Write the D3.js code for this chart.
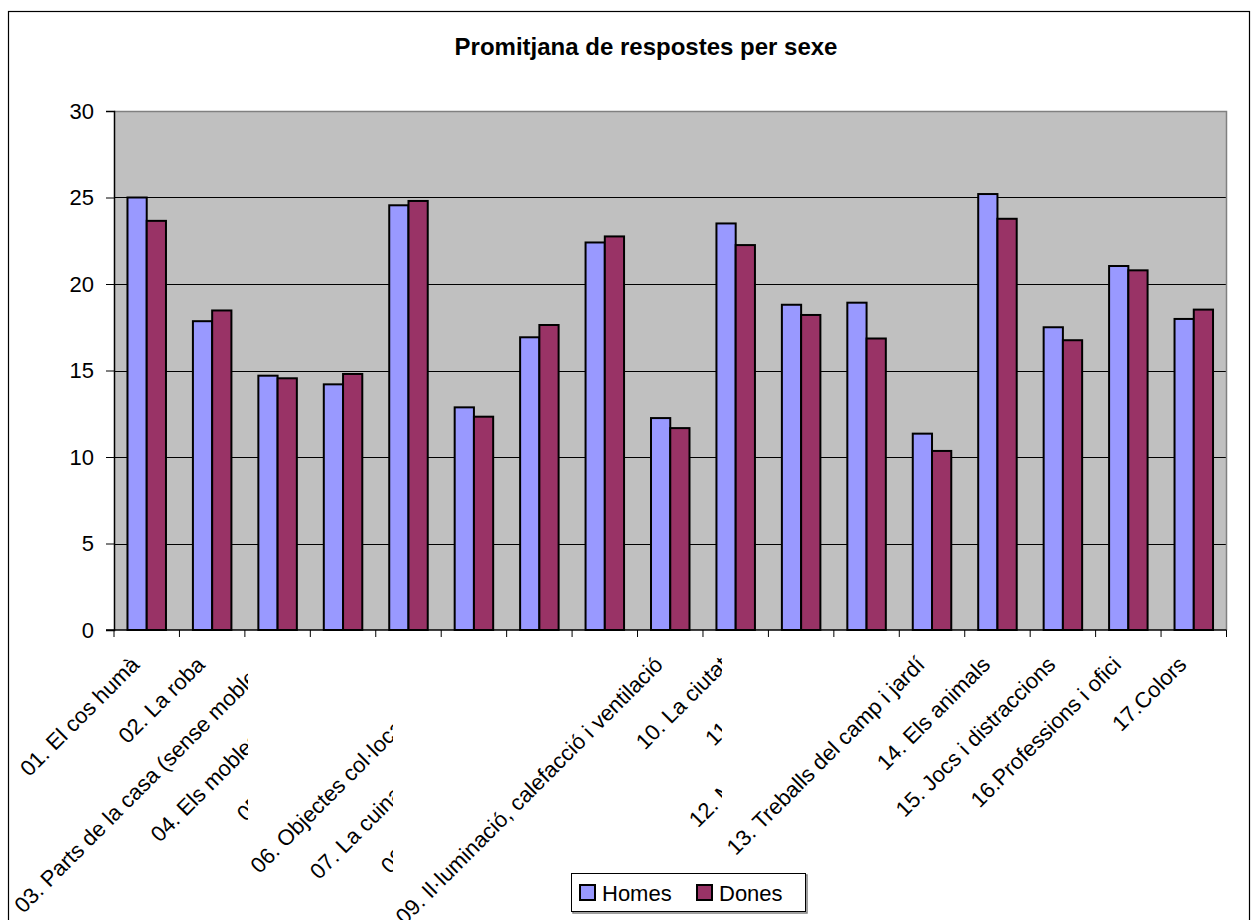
<!DOCTYPE html>
<html>
<head>
<meta charset="utf-8">
<script src="https://cdn.jsdelivr.net/npm/d3@7"></script>
<style>
  body { margin: 0; background: #fff; }
  text { font-family: "Liberation Sans", Arial, sans-serif; fill: #000; }
</style>
</head>
<body>
<div id="chart"></div>
<script>
// categories and averages
var categories = [
  "01. El cos humà",
  "02. La roba",
  "03. Parts de la casa (sense mobles)",
  "04. Els mobles de la casa",
  "05. Aliments i begudes",
  "06. Objectes col·locats a taula",
  "07. La cuina i els seus utensilis",
  "08. L'escola: mobles i material",
  "09. Il·luminació, calefacció i ventilació",
  "10. La ciutat",
  "11. El camp",
  "12. Mitjans de transport",
  "13. Treballs del camp i jardí",
  "14. Els animals",
  "15. Jocs i distraccions",
  "16.Professions i ofici",
  "17.Colors"
];
var homes = [25.0, 17.85, 14.7, 14.2, 24.55, 12.87, 16.92, 22.4, 12.25, 23.5, 18.8, 18.92, 11.35, 25.2, 17.5, 21.04, 17.98];
var dones = [23.65, 18.47, 14.55, 14.8, 24.8, 12.33, 17.63, 22.75, 11.67, 22.25, 18.21, 16.85, 10.35, 23.77, 16.75, 20.79, 18.52];
var seriesNames = ["Homes", "Dones"];
var yTicks = [0, 5, 10, 15, 20, 25, 30];

var width = 1259;
var height = 920;
var colors = { Homes: "#9999ff", Dones: "#993366" };

// plot area
var plotLeft = 114, plotRight = 1226.5, plotTop = 111, plotBottom = 630;

// excel cut some of the rotated labels off, keep that look
var labelClip = { 2: 248, 3: 248, 4: 248, 5: 393, 6: 393, 7: 393, 9: 722, 10: 722, 11: 722 };

var svg = d3.select("#chart")
  .append("svg")
  .attr("width", width)
  .attr("height", height);

// outer chart border
svg.append("rect")
  .attr("x", 8.5)
  .attr("y", 11.5)
  .attr("width", 1241)
  .attr("height", 930)
  .attr("fill", "#fff")
  .attr("stroke", "#000")
  .attr("stroke-width", 1.2);

svg.append("text")
  .attr("x", 646)
  .attr("y", 55)
  .attr("text-anchor", "middle")
  .attr("font-size", 24)
  .attr("font-weight", "bold")
  .text("Promitjana de respostes per sexe");

var xScale = d3.scaleBand()
  .domain(categories)
  .range([plotLeft, plotRight]);

var xInner = d3.scaleBand()
  .domain(seriesNames)
  .range([0, xScale.bandwidth()])
  .paddingInner(0)
  .paddingOuter(0.7);

var yScale = d3.scaleLinear()
  .domain([0, 30])
  .range([plotBottom, plotTop]);

// plot background
svg.append("rect")
  .attr("x", plotLeft)
  .attr("y", plotTop)
  .attr("width", plotRight - plotLeft)
  .attr("height", plotBottom - plotTop)
  .attr("fill", "#c0c0c0");

// gridlines
svg.append("g")
  .selectAll("line")
  .data(yTicks.filter(function(t) { return t > 0 && t < 30; }))
  .enter()
  .append("line")
  .attr("x1", plotLeft)
  .attr("x2", plotRight)
  .attr("y1", function(d) { return Math.round(yScale(d)) + 0.5; })
  .attr("y2", function(d) { return Math.round(yScale(d)) + 0.5; })
  .attr("stroke", "#000")
  .attr("stroke-width", 1);

// gray plot border top / right
svg.append("path")
  .attr("d", "M" + plotLeft + "," + (plotTop + 0.5) + "H" + plotRight + "V" + plotBottom)
  .attr("fill", "none")
  .attr("stroke", "#808080")
  .attr("stroke-width", 1.5);

// bars
var rows = categories.map(function(c, i) {
  return { cat: c, Homes: homes[i], Dones: dones[i] };
});

var groups = svg.append("g")
  .selectAll("g")
  .data(rows)
  .enter()
  .append("g")
  .attr("transform", function(d) { return "translate(" + xScale(d.cat) + ",0)"; });

groups.selectAll("rect")
  .data(function(d) {
    return seriesNames.map(function(s) { return { key: s, value: d[s] }; });
  })
  .enter()
  .append("rect")
  .attr("x", function(d) { return xInner(d.key); })
  .attr("y", function(d) { return yScale(d.value); })
  .attr("width", xInner.bandwidth())
  .attr("height", function(d) { return plotBottom - yScale(d.value); })
  .attr("fill", function(d) { return colors[d.key]; })
  .attr("stroke", "#000")
  .attr("stroke-width", 2);

// y axis
var yAxis = d3.axisLeft(yScale)
  .tickValues(yTicks)
  .tickSize(8)
  .tickPadding(12);

var gy = svg.append("g")
  .attr("transform", "translate(" + plotLeft + ",0)")
  .call(yAxis);
gy.select(".domain").attr("stroke", "#000").attr("stroke-width", 1.5);
gy.selectAll("text")
  .attr("font-size", 22)
  .attr("font-family", "Liberation Sans, Arial, sans-serif")
  .attr("fill", "#000");

// x axis line and category ticks
svg.append("line")
  .attr("x1", plotLeft - 8)
  .attr("x2", plotRight)
  .attr("y1", plotBottom)
  .attr("y2", plotBottom)
  .attr("stroke", "#000")
  .attr("stroke-width", 1.5);

svg.append("g")
  .selectAll("line")
  .data(categories.concat([null]))
  .enter()
  .append("line")
  .attr("x1", function(d) { return d === null ? plotRight : xScale(d); })
  .attr("x2", function(d) { return d === null ? plotRight : xScale(d); })
  .attr("y1", plotBottom)
  .attr("y2", plotBottom + 7)
  .attr("stroke", "#000")
  .attr("stroke-width", 1);

// clip paths for labels
var defs = svg.append("defs");
Object.keys(labelClip).forEach(function(k) {
  defs.append("clipPath")
    .attr("id", "lc" + k)
    .append("rect")
    .attr("x", 0)
    .attr("y", plotBottom)
    .attr("width", labelClip[k])
    .attr("height", height - plotBottom);
});

// rotated category labels
svg.append("g")
  .selectAll("g")
  .data(categories)
  .enter()
  .append("g")
  .attr("clip-path", function(d, i) { return labelClip[i] ? "url(#lc" + i + ")" : null; })
  .append("text")
  .attr("transform", function(d) {
    return "translate(" + (xScale(d) + xScale.bandwidth() / 2 - 6) + "," + 666 + ")rotate(-45)";
  })
  .attr("text-anchor", "end")
  .attr("font-size", 22)
  .text(function(d) { return d; });

// legend
var legend = svg.append("g");
legend.append("rect")
  .attr("x", 572)
  .attr("y", 874)
  .attr("width", 234)
  .attr("height", 38)
  .attr("fill", "none")
  .attr("stroke", "#808080")
  .attr("stroke-width", 1.5)
  .attr("transform", "translate(1,1)");
legend.append("rect")
  .attr("x", 571.5)
  .attr("y", 873.5)
  .attr("width", 234)
  .attr("height", 38)
  .attr("fill", "#fff")
  .attr("stroke", "#000")
  .attr("stroke-width", 1);

var legX = [580, 697];
var items = legend.selectAll("g.item")
  .data(seriesNames)
  .enter()
  .append("g")
  .attr("class", "item")
  .attr("transform", function(d, i) { return "translate(" + legX[i] + ",0)"; });
items.append("rect")
  .attr("x", 0)
  .attr("y", 885)
  .attr("width", 15)
  .attr("height", 15)
  .attr("fill", function(d) { return colors[d]; })
  .attr("stroke", "#000")
  .attr("stroke-width", 2);
items.append("text")
  .attr("x", 22)
  .attr("y", 901)
  .attr("font-size", 22)
  .text(function(d) { return d; });
</script>
</body>
</html>
